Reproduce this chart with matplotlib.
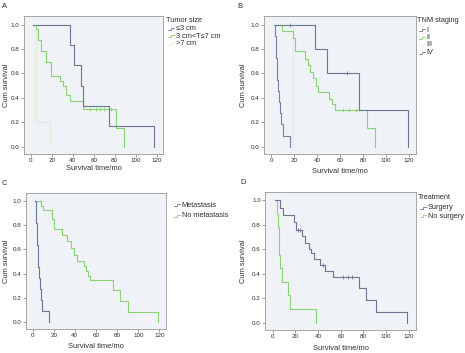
import matplotlib
matplotlib.use("Agg")
import matplotlib.pyplot as plt
from matplotlib.lines import Line2D

# ---------------- data ----------------
# Panel A: tumor size
a_le3_t = [2.5, 37.7, 40.8, 48.1, 49.7, 75.0, 117.5]
a_le3_s = [1.0, 0.833, 0.667, 0.5, 0.333, 0.167, 0.0]
a_mid_t = [3, 4.5, 6.5, 10, 14, 19, 28, 31, 34, 37, 50, 81, 89]
a_mid_s = [1.0, 0.96, 0.875, 0.78, 0.69, 0.58, 0.54, 0.50, 0.42, 0.37, 0.31, 0.155, 0.0]
a_mid_cens_t = [56, 62, 66, 70, 76]
a_mid_cens_s = [0.31, 0.31, 0.31, 0.31, 0.31]
a_gt7_t = [3, 5, 18]
a_gt7_s = [1.0, 0.2, 0.0]
a_labels = ["\u22643 cm", "3 cm<T\u22647 cm", ">7 cm"]

# Panel B: TNM staging
b_I_t = [3, 38, 48.7, 76.7, 119]
b_I_s = [1.0, 0.8, 0.6, 0.3, 0.0]
b_I_cens_t = [16, 65.5]
b_I_cens_s = [1.0, 0.6]
b_II_t = [7, 9.5, 19, 20.5, 29.5, 32, 34, 36.5, 38.5, 41, 50, 52.5, 55, 83, 90.5]
b_II_s = [1.0, 0.95, 0.89, 0.78, 0.72, 0.67, 0.61, 0.56, 0.50, 0.45, 0.39, 0.35, 0.30, 0.15, 0.0]
b_II_cens_t = [62, 68, 74]
b_II_cens_s = [0.30, 0.30, 0.30]
b_III_t = [3, 19]
b_III_s = [1.0, 0.0]
b_IV_t = [2.5, 3.2, 3.6, 4.0, 4.4, 5.0, 5.5, 6.2, 7.5, 8.5, 10, 16]
b_IV_s = [1.0, 0.909, 0.818, 0.727, 0.636, 0.545, 0.455, 0.364, 0.273, 0.182, 0.091, 0.0]
b_labels = ["I", "II", "III", "IV"]

# Panel C: metastasis
c_met_t = [2.5, 3.2, 3.6, 4.0, 4.4, 5.0, 5.5, 6.2, 7.0, 8.0, 9.3, 16]
c_met_s = [1.0, 0.909, 0.818, 0.727, 0.636, 0.545, 0.455, 0.364, 0.273, 0.182, 0.091, 0.0]
c_nomet_t = [2.5, 7.8, 9.5, 18.7, 20.2, 28, 32.7, 36, 39, 42, 48.5, 50.5, 52.5, 54.5, 76.5, 82.5, 90.5, 119]
c_nomet_s = [1.0, 0.963, 0.926, 0.85, 0.77, 0.72, 0.67, 0.61, 0.55, 0.50, 0.46, 0.42, 0.38, 0.345, 0.26, 0.17, 0.085, 0.0]
c_labels = ["Metastasis", "No metastasis"]

# Panel D: treatment
d_surg_t = [2, 6.5, 9, 18.4, 20.4, 25.8, 28.7, 31.7, 33.8, 36.1, 41.5, 46.5, 53, 76, 82, 91, 118.5]
d_surg_s = [1.0, 0.94, 0.88, 0.82, 0.76, 0.71, 0.65, 0.60, 0.57, 0.52, 0.47, 0.42, 0.37, 0.28, 0.185, 0.09, 0.0]
d_surg_cens_t = [22, 24, 44, 62, 66, 70]
d_surg_cens_s = [0.76, 0.76, 0.47, 0.37, 0.37, 0.37]
d_nosurg_t = [2.5, 3.5, 4.5, 5.5, 6.0, 6.8, 7.8, 13.5, 15.5, 38.5]
d_nosurg_s = [1.0, 0.889, 0.778, 0.667, 0.556, 0.444, 0.333, 0.222, 0.111, 0.0]
d_labels = ["Surgery", "No surgery"]

yticks = [0.0, 0.2, 0.4, 0.6, 0.8, 1.0]
xticks = [0, 20, 40, 60, 80, 100, 120]

# ---------------- style ----------------
W, H = 465, 353
BG = "#eff2f6"
C_BLUE = "#6b7895"
C_GREEN = "#8ad276"
C_FAINT = "#e6eada"
C_IV = "#7480a6"
TXT = "#2e2e2e"

plt.rcParams["font.family"] = ["Liberation Sans", "DejaVu Sans"]
fig = plt.figure(figsize=(W / 100, H / 100), dpi=100)


def px_axes(l, r, t, b, ylab_dx, xlab_dy):
    ax = fig.add_axes([l / W, 1 - b / H, (r - l) / W, (b - t) / H])
    ax.set_facecolor(BG)
    ax.set_xlim(-6.5, 126)
    ax.set_ylim(-0.06, 1.07)
    ax.set_xticks(xticks)
    ax.set_yticks(yticks)
    ax.set_yticklabels([f"{v:.1f}" for v in yticks])
    ax.tick_params(labelsize=4.5, length=2, width=0.5, colors="#777777",
                   labelcolor=TXT, pad=1.2)
    for s in ax.spines.values():
        s.set_color("#999999")
        s.set_linewidth(0.6)
    ax.set_xlabel("Survival time/mo", fontsize=5.4, color=TXT, va="center")
    ax.set_ylabel("Cum survival", fontsize=5.4, color=TXT, va="center")
    ax.xaxis.set_label_coords(0.5, -xlab_dy / (b - t))
    ax.yaxis.set_label_coords(-ylab_dx / (r - l), 0.5)
    return ax


def curve(ax, t, s, color, lw=0.8):
    ax.step(t, s, where="post", color=color, lw=lw)


def cens(ax, t, s, color):
    ax.plot(t, s, ls="none", marker="|", ms=2.2, mew=0.6, color=color)


def legend(x, ys, labels, colors, title=None, title_y=None):
    if title is not None:
        fig.text(x / W, 1 - title_y / H, title, fontsize=5.3, color=TXT,
                 ha="left", va="center")
    for y, lab, col in zip(ys, labels, colors):
        hx = x + 2
        fig.add_artist(Line2D([hx / W, (hx + 3) / W, (hx + 3) / W, (hx + 6) / W],
                              [1 - (y + 1.2) / H, 1 - (y + 1.2) / H,
                               1 - (y - 0.8) / H, 1 - (y - 0.8) / H],
                              color=col, lw=0.6))
        fig.text((x + 9.5) / W, 1 - y / H, lab, fontsize=5.3, color=TXT,
                 ha="left", va="center")


# Panel A
axA = px_axes(24, 163, 16, 154, 17.3, 15)
curve(axA, a_gt7_t, a_gt7_s, C_FAINT)
curve(axA, a_mid_t, a_mid_s, C_GREEN)
cens(axA, a_mid_cens_t, a_mid_cens_s, C_GREEN)
curve(axA, a_le3_t, a_le3_s, C_BLUE)
fig.text(5 / W, 1 - 6 / H, "A", fontsize=5.5, color=TXT, ha="center", va="center")
legend(166, [28.3, 36, 43.7], a_labels, [C_BLUE, C_GREEN, C_FAINT],
       title="Tumor size", title_y=20.7)

# Panel B
axB = px_axes(264, 416, 16, 154, 21, 17.7)
curve(axB, b_III_t, b_III_s, C_FAINT)
curve(axB, b_II_t, b_II_s, C_GREEN)
cens(axB, b_II_cens_t, b_II_cens_s, C_GREEN)
curve(axB, b_I_t, b_I_s, C_BLUE)
cens(axB, b_I_cens_t, b_I_cens_s, C_BLUE)
curve(axB, b_IV_t, b_IV_s, C_IV)
fig.text(240 / W, 1 - 6 / H, "B", fontsize=5.5, color=TXT, ha="center", va="center")
legend(417, [30, 37.7, 45, 52.7], b_labels, [C_BLUE, C_GREEN, C_FAINT, C_IV],
       title="TNM staging", title_y=20.7)

# Panel C
axC = px_axes(25.7, 165.7, 192.7, 329, 19, 17)
curve(axC, c_nomet_t, c_nomet_s, C_GREEN)
curve(axC, c_met_t, c_met_s, C_BLUE)
fig.text(4 / W, 1 - 183 / H, "C", fontsize=5.5, color=TXT, ha="center", va="center")
legend(172, [205.3, 215.3], c_labels, [C_BLUE, C_GREEN])

# Panel D
axD = px_axes(265.3, 415.7, 191.7, 330, 22, 18.7)
curve(axD, d_nosurg_t, d_nosurg_s, C_GREEN)
curve(axD, d_surg_t, d_surg_s, C_BLUE)
cens(axD, d_surg_cens_t, d_surg_cens_s, C_BLUE)
fig.text(243 / W, 1 - 182 / H, "D", fontsize=5.5, color=TXT, ha="center", va="center")
legend(418, [207.7, 216], d_labels, [C_BLUE, C_GREEN],
       title="Treatment", title_y=197.7)

fig.savefig("out.png", dpi=100, facecolor="white")
